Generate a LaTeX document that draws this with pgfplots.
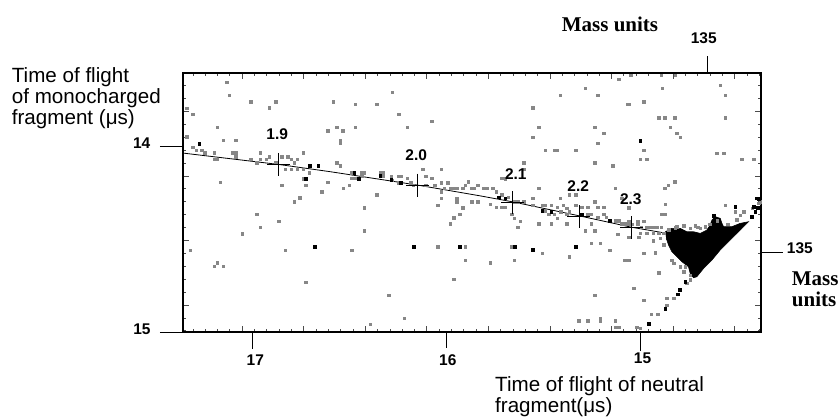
\documentclass[border=0pt]{standalone}
\usepackage{fontspec}
\setmainfont{Liberation Sans}
\newfontfamily\timesfont{Liberation Serif}
\usepackage{pgfplots}
\pgfplotsset{compat=1.18}
\definecolor{dotgray}{RGB}{135,135,135}
\begin{document}
\begin{tikzpicture}[x=1pt,y=1pt]
\useasboundingbox (-183,-84) rectangle (655,332);
\begin{axis}[at={(0,0)}, anchor=south west, scale only axis,
  width=577.7pt, height=259pt,
  xmin=14.376, xmax=17.36, x dir=reverse,
  ymin=13.6075, ymax=15.0, y dir=reverse,
  axis line style={line width=1.8pt},
  xtick={14.511,14.829,...,17.1},
  minor xtick={14.384,14.4476,...,17.36},
  ytick={13.813,14.160,...,15.0},
  minor ytick={13.6744,13.7438,...,15.0},
  xticklabels={}, yticklabels={},
  tick align=inside,
  major tick length=6pt, minor tick length=3pt,
  every tick/.style={black!70, line width=0.5pt},
  clip=true]
% gray fringe around the dense region
\addplot[only marks, mark=square*, mark size=1.3pt, color=dotgray, mark options={draw=none}] coordinates {
(14.826,14.631) (14.792,14.649) (14.775,14.676) (14.740,14.720) (14.878,14.532) (14.895,14.496) (14.835,14.613)
(14.852,14.450) (14.818,14.440) (14.700,14.437) (14.640,14.420) (14.600,14.400) (14.545,14.420) (14.500,14.395)};
% dense triangle
\addplot[fill=black, draw=black, line width=0.6pt] coordinates {
(14.869,14.461) (14.835,14.443) (14.792,14.443) (14.757,14.461) (14.723,14.461)
(14.688,14.470) (14.654,14.452) (14.637,14.425) (14.628,14.398) (14.611,14.380)
(14.585,14.389) (14.576,14.416) (14.568,14.434) (14.525,14.434) (14.482,14.416)
(14.439,14.407) (14.482,14.452) (14.533,14.505) (14.585,14.559) (14.628,14.613)
(14.671,14.658) (14.706,14.703) (14.723,14.708) (14.740,14.685) (14.749,14.649)
(14.783,14.622) (14.809,14.595) (14.835,14.568) (14.852,14.532) (14.864,14.496)};
% gray dots
\addplot[only marks, mark=square*, mark size=1.25pt, color=dotgray, mark options={draw=none}] coordinates {
(17.134,13.658) (17.121,13.726) (17.009,13.762) (16.914,13.794) (16.881,13.762) (17.341,13.798) (17.310,13.828) (16.613,13.918) (17.183,13.900) (17.152,13.970) (17.088,13.970) (17.341,13.950) (17.310,14.007) (17.293,14.022) (17.264,14.022) (17.247,14.036) (17.200,14.036) (17.200,14.072) (17.183,14.072) (17.105,14.036) (17.088,14.036) (17.088,14.057) (17.009,14.072) (16.978,14.090) (16.962,14.036) (16.962,14.072) (16.931,14.072) (16.914,14.057) (16.881,14.090) (16.850,14.057) (16.819,14.057) (16.802,14.072) (16.785,14.090) (16.769,14.072) (16.738,14.036) (16.833,14.125) (16.802,14.125) (16.769,14.125) (16.738,14.125) (16.707,14.143) (16.738,14.177) (16.725,14.210) (16.613,14.195) (16.644,14.245) (16.756,14.278) (16.785,14.299) (16.850,14.210) (17.167,14.195) (16.978,14.367) (16.962,14.437) (16.866,14.403) (17.055,14.471) (16.833,14.559) (17.324,14.559) (17.200,14.645) (17.183,14.627) (17.152,14.645) (16.725,14.731)
(16.583,13.762) (16.471,13.776) (16.359,13.776) (16.280,13.710) (16.247,13.830) (16.075,13.866) (16.201,13.900) (16.566,13.900) (16.535,13.918) (16.471,13.900) (16.549,13.971) (16.549,13.986) (16.566,14.090) (16.549,14.107) (16.488,14.143) (16.437,14.143) (16.423,14.143) (16.488,14.174) (16.471,14.174) (16.437,14.161) (16.342,14.143) (16.325,14.143) (16.325,14.161) (16.285,14.161) (16.280,14.183) (16.247,14.161) (16.234,14.161) (16.247,14.197) (16.201,14.174) (16.185,14.197) (16.170,14.210) (16.123,14.125) (16.106,14.161) (16.106,14.210) (16.075,14.174) (16.027,14.125) (16.061,14.210) (16.027,14.197) (16.027,14.245) (16.010,14.228) (15.994,14.197) (15.980,14.228) (15.963,14.228) (15.946,14.228) (15.946,14.281) (15.946,14.299) (15.915,14.228) (15.903,14.210) (15.886,14.192) (15.868,14.228) (15.855,14.228) (15.837,14.210) (15.868,14.299) (15.837,14.299) (16.044,14.317) (16.027,14.281) (15.915,14.331) (15.932,14.367) (15.963,14.385) (15.980,14.419) (16.532,14.228) (16.501,14.210) (16.359,14.263) (16.423,14.331) (16.423,14.455) (16.044,14.541) (15.903,14.541) (15.903,14.613) (16.488,14.559) (15.963,14.717) (16.297,14.803) (16.218,14.925) (16.392,14.959)
(15.412,13.726) (15.283,13.690) (15.219,13.726) (15.110,13.642) (15.062,13.776) (15.553,13.794) (15.522,13.900) (15.553,13.953) (15.234,13.900) (15.188,13.932) (15.219,13.986) (15.489,14.022) (15.443,14.022) (15.426,14.022) (15.331,14.022) (15.234,14.090) (15.140,14.107) (15.601,14.090) (15.601,14.125) (15.696,14.177) (15.713,14.174) (15.808,14.228) (15.791,14.228) (15.760,14.228) (15.743,14.245) (15.713,14.263) (15.679,14.276) (15.648,14.299) (15.632,14.299) (15.601,14.299) (15.774,14.312) (15.743,14.330) (15.713,14.330) (15.696,14.330) (15.662,14.367) (15.648,14.389) (15.617,14.403) (15.632,14.437) (15.522,14.228) (15.553,14.281) (15.553,14.317) (15.505,14.317) (15.489,14.317) (15.458,14.317) (15.489,14.348) (15.426,14.330) (15.410,14.353) (15.395,14.317) (15.377,14.335) (15.377,14.367) (15.364,14.353) (15.331,14.317) (15.364,14.263) (15.331,14.263) (15.412,14.281) (15.300,14.330) (15.269,14.330) (15.269,14.367) (15.252,14.367) (15.219,14.330) (15.234,14.299) (15.188,14.330) (15.188,14.367) (15.219,14.383) (15.174,14.383) (15.128,14.401) (15.110,14.401) (15.093,14.419) (15.079,14.419) (15.062,14.419) (15.128,14.228) (15.093,14.281) (15.252,14.419) (15.234,14.455) (15.283,14.455) (15.114,14.473) (15.252,14.523) (15.205,14.523) (15.157,14.559) (15.522,14.419) (15.458,14.419) (15.443,14.367) (15.426,14.389) (15.377,14.419) (15.472,14.367) (15.662,14.541) (15.505,14.577) (15.364,14.595) (15.648,14.613) (15.774,14.627) (15.079,14.613) (15.062,14.613) (15.234,14.803) (15.315,14.939) (15.269,14.939) (15.205,14.925) (15.205,14.939) (15.128,14.939) (15.128,14.975) (15.110,14.975)
(14.886,13.690) (14.981,13.762) (15.059,13.776) (14.585,13.672) (14.559,13.726) (14.904,13.848) (14.873,13.848) (14.821,13.848) (14.559,13.848) (14.843,13.900) (14.809,13.932) (14.792,13.953) (14.981,14.022) (14.998,14.072) (14.964,14.072) (14.602,14.040) (14.568,14.040) (14.473,14.072) (14.413,14.072) (14.821,14.192) (14.855,14.210) (14.873,14.228) (14.869,14.314) (14.890,14.367) (14.873,14.367) (15.059,14.331) (15.059,14.403) (15.011,14.403) (14.981,14.403) (15.042,14.421) (15.011,14.421) (14.993,14.437) (14.964,14.437) (14.947,14.437) (14.930,14.437) (14.912,14.437) (14.890,14.437) (14.998,14.470) (14.964,14.470) (14.930,14.470) (14.904,14.470) (14.878,14.470) (15.059,14.491) (15.007,14.491) (14.930,14.509) (14.921,14.573) (15.059,14.613) (14.981,14.577) (14.904,14.681) (15.033,14.765) (14.981,14.828) (14.861,14.819) (14.942,14.905) (14.907,14.905) (14.998,14.980) (15.016,14.975)
(15.047,13.618) (14.891,13.618) (14.818,13.618)
(14.809,14.434) (14.774,14.428) (14.740,14.443) (14.714,14.428) (14.688,14.443) (14.662,14.434) (14.559,14.317) (14.507,14.353) (14.482,14.371) (14.464,14.353) (14.421,14.335) (14.378,14.299) (14.766,14.649) (14.740,14.694) (14.757,14.738) (14.826,14.819) (14.861,14.855) (14.387,14.308)};
% black dots
\addplot[only marks, mark=square*, mark size=1.35pt, color=black, mark options={draw=none}] coordinates {
(17.276,13.986) (16.707,14.107) (16.661,14.107) (16.725,14.177) (16.678,14.541)
(16.476,14.143) (16.454,14.174) (16.342,14.161) (16.285,14.183) (16.234,14.197) (16.170,14.541) (15.932,14.541)
(15.731,14.276) (15.696,14.281) (15.505,14.348) (15.458,14.353) (15.300,14.367) (15.157,14.401) (15.648,14.541) (15.553,14.559) (15.331,14.541)
(14.998,13.971) (14.869,14.873) (14.955,14.957) (14.507,14.326) (14.619,14.374) (14.421,14.380) (14.404,14.353) (14.392,14.332) (14.387,14.285) (14.413,14.326) (14.396,14.281) (14.766,14.729) (14.795,14.774) (14.805,14.797)};
% fitted curve
\addplot[black, line width=0.8pt] coordinates {
(17.376,14.036) (16.867,14.099) (16.600,14.138) (16.149,14.210) (15.825,14.268)
(15.658,14.300) (15.315,14.375) (15.042,14.437) (14.869,14.468)};
% calibration crosses
\addplot[only marks, mark=+, mark size=11.5pt, black, mark options={line width=0.8pt}] coordinates {
(16.867,14.099) (16.149,14.210) (15.658,14.305) (15.315,14.380) (15.042,14.439)};
\end{axis}
% labelled ticks
\draw[line width=0.9pt] (-23,186) -- (0,186);
\draw[line width=0.9pt] (-23,0) -- (0,0);
\draw[line width=0.9pt] (69.7,0) -- (69.7,-17.3);
\draw[line width=0.9pt] (263,0) -- (263,-15.5);
\draw[line width=0.9pt] (457,0) -- (457,-19);
\draw[line width=0.9pt] (524,259) -- (524,276);
\draw[line width=0.9pt] (577.7,80) -- (600.3,80);
\begin{scope}[every node/.style={inner sep=0pt, font=\fontsize{15.5}{16}\selectfont\bfseries}]
\node[anchor=base] at (-41.3,183.7) {14};
\node[anchor=base] at (-41,-2) {15};
\node[anchor=base] at (72.3,-33.7) {17};
\node[anchor=base] at (264.8,-33.7) {16};
\node[anchor=base] at (459.5,-31.3) {15};
\node[anchor=base] at (520.7,288.7) {135};
\node[anchor=base west] at (603.7,78.7) {135};
\node[anchor=base] at (94.2,192.7) {1.9};
\node[anchor=base] at (233.2,171.3) {2.0};
\node[anchor=base] at (332.8,152.7) {2.1};
\node[anchor=base] at (395.2,141) {2.2};
\node[anchor=base] at (447.8,128) {2.3};
\end{scope}
\begin{scope}[every node/.style={inner sep=0pt, font=\fontsize{20.6}{21}\selectfont}]
\node[anchor=base west] at (-171.3,249.3) {Time of flight};
\node[anchor=base west] at (-171.3,228.5) {of monocharged};
\node[anchor=base west] at (-171.3,207.7) {fragment (μs)};
\node[anchor=base west] at (312,-59.7) {Time of flight of neutral};
\node[anchor=base west] at (312,-80) {fragment(μs)};
\end{scope}
\begin{scope}[every node/.style={inner sep=0pt, font=\timesfont\fontsize{21}{22}\selectfont\bfseries}]
\node[anchor=base] at (427,300.3) {Mass units};
\node[anchor=base west] at (608.7,47) {Mass};
\node[anchor=base west] at (608.7,25.3) {units};
\end{scope}
\end{tikzpicture}
\end{document}
